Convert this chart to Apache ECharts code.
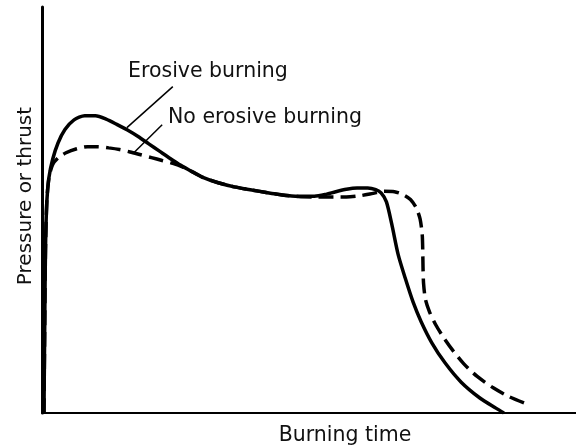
<!DOCTYPE html>
<html>
<head>
<meta charset="utf-8">
<script src="https://cdn.jsdelivr.net/npm/echarts@6/dist/echarts.min.js"></script>
<style>
  html, body { margin: 0; padding: 0; background: #fff; }
  #main { width: 576px; height: 447px; }
</style>
</head>
<body>
<div id="main"></div>
<script>
// burning time (0-100) vs pressure (0-100)
var erosive = [
    [0.37, 0], [0.5, 20], [0.65, 40], [0.9, 52], [1.3, 58], [2, 62.5], [3, 66.5],
    [4.3, 69.8], [6, 72.2], [8, 73.2], [10, 73.2], [12, 72.4], [14, 71.1], [16, 69.7],
    [18, 68.1], [20, 66.3], [22, 64.5], [24, 62.7], [26, 61], [28, 59.5], [30, 58.1],
    [33, 56.7], [36, 55.7], [39, 55], [42, 54.3], [45, 53.7], [48, 53.4], [51, 53.4],
    [53, 53.8], [55, 54.5], [57, 55.1], [59, 55.4], [61, 55.4], [62.5, 55.0], [63.5, 54.2],
    [64.5, 52], [65.5, 46.5], [66.7, 39], [68, 33.3], [69.5, 27.3], [71, 22.5], [73, 17.3],
    [75.5, 12.3], [78.5, 7.6], [82, 3.7], [85, 1.2], [86.5, 0]
];
var noErosive = [
    [0.37, 0], [0.5, 20], [0.65, 40], [0.9, 52], [1.3, 58], [2, 61.2], [3, 62.8],
    [4.5, 64.1], [6.5, 65.1], [8.5, 65.6], [10.5, 65.6], [12.5, 65.3], [14.5, 64.9],
    [16.5, 64.3], [18.5, 63.6], [20.5, 62.9], [22.5, 62.2], [24.5, 61.5], [26.5, 60.5],
    [28.5, 59.2], [30, 58.1], [33, 56.7], [36, 55.7], [39, 55], [42, 54.3], [45, 53.7],
    [48, 53.3], [51, 53.2], [54, 53.2], [57, 53.2], [59.5, 53.5], [62, 54.1], [64, 54.6],
    [66, 54.5], [67.6, 53.8], [69, 52.6], [70.1, 50.5], [70.8, 47.8], [71.2, 44],
    [71.3, 40], [71.35, 36], [71.45, 32], [71.8, 28], [72.6, 24.8], [73.7, 21.8],
    [75.2, 18.6], [77, 15.3], [79, 12.1], [81.5, 9], [84.5, 6.2], [87.5, 4], [90.8, 2.2]
];
var erosiveLeader = [[15.9, 70.3], [24.5, 80.4]];
var noErosiveLeader = [[17.1, 64.0], [22.5, 71.0]];
var seriesNames = ['Erosive burning', 'No erosive burning'];
var xName = 'Burning time';
var yName = 'Pressure or thrust';

var font = 'DejaVu Sans';
var chart = echarts.init(document.getElementById('main'));

chart.setOption({
    backgroundColor: '#fff',
    animation: false,
    grid: { left: 42, right: 0, top: 7, bottom: 34, outerBoundsMode: 'none' },
    xAxis: {
        type: 'value',
        min: 0,
        max: 100,
        name: xName,
        nameLocation: 'middle',
        nameGap: 12,
        nameTextStyle: { color: '#111', fontSize: 20.5, fontFamily: font, padding: [0, 0, 0, 72] },
        axisLine: { lineStyle: { color: '#000', width: 2 } },
        axisTick: { show: false },
        axisLabel: { show: false },
        splitLine: { show: false }
    },
    yAxis: {
        type: 'value',
        min: 0,
        max: 100,
        name: yName,
        nameLocation: 'middle',
        nameGap: 6,
        nameTextStyle: { color: '#111', fontSize: 20, fontFamily: font, padding: [0, 0, 0, 28] },
        axisLine: { lineStyle: { color: '#000', width: 3 } },
        axisTick: { show: false },
        axisLabel: { show: false },
        splitLine: { show: false }
    },
    series: [
        {
            name: seriesNames[0],
            type: 'line',
            data: erosive,
            smooth: 0.25,
            symbol: 'none',
            lineStyle: { color: '#000', width: 3.5 },
            z: 3
        },
        {
            name: seriesNames[1],
            type: 'line',
            data: noErosive,
            smooth: 0.25,
            symbol: 'none',
            lineStyle: { color: '#000', width: 3.5, type: [15, 7] },
            z: 2
        },
        {
            type: 'line',
            data: erosiveLeader,
            symbol: 'none',
            lineStyle: { color: '#000', width: 1.5 }
        },
        {
            type: 'line',
            data: noErosiveLeader,
            symbol: 'none',
            lineStyle: { color: '#000', width: 1.5 }
        }
    ],
    graphic: [
        {
            type: 'text', x: 128, y: 72,
            style: { text: seriesNames[0], fill: '#111', font: '20.5px ' + font, textVerticalAlign: 'middle' }
        },
        {
            type: 'text', x: 168, y: 118,
            style: { text: seriesNames[1], fill: '#111', font: '20.5px ' + font, textVerticalAlign: 'middle' }
        }
    ]
});
</script>
</body>
</html>
